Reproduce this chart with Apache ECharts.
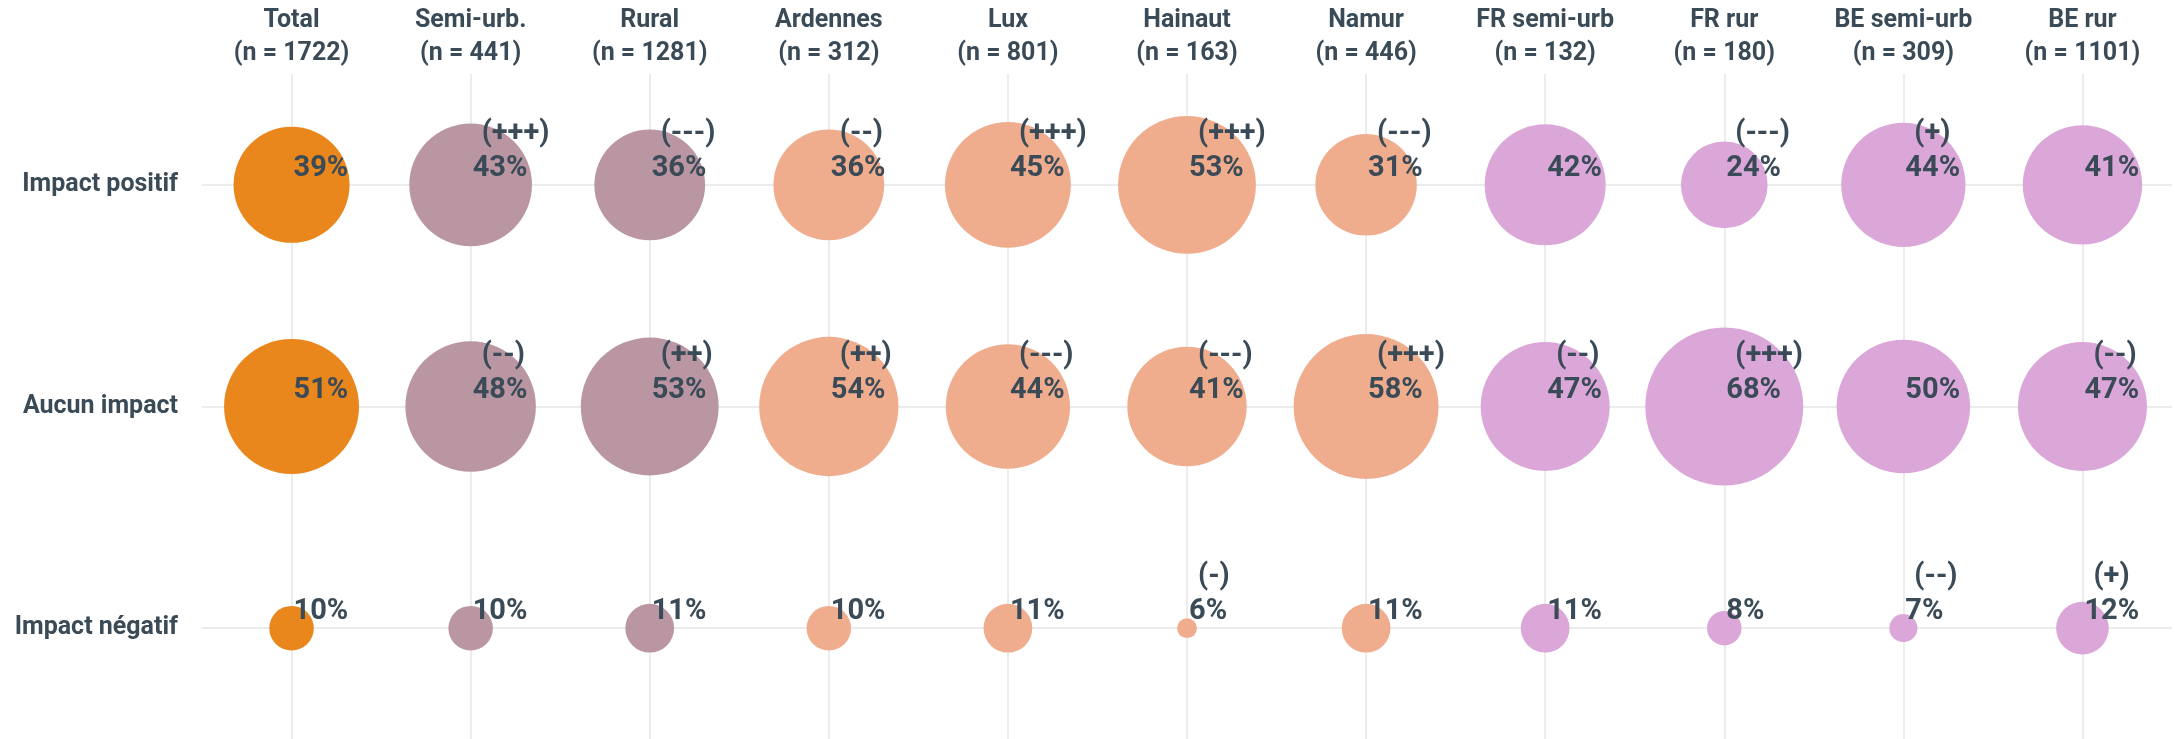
<!DOCTYPE html>
<html>
<head>
<meta charset="utf-8">
<script src="https://cdn.jsdelivr.net/npm/echarts@6/dist/echarts.min.js"></script>
<style>
html,body{margin:0;padding:0;background:#fff;}
#chart{width:2175px;height:739px;}
</style>
</head>
<body>
<div id="chart"></div>
<script>
// ---- data ----
const categories = ['Total', 'Semi-urb.', 'Rural', 'Ardennes', 'Lux', 'Hainaut', 'Namur', 'FR semi-urb', 'FR rur', 'BE semi-urb', 'BE rur'];
const sampleSizes = [1722, 441, 1281, 312, 801, 163, 446, 132, 180, 309, 1101];
const rows = ['Impact positif', 'Aucun impact', 'Impact négatif'];
const positif = [39, 43, 36, 36, 45, 53, 31, 42, 24, 44, 41];
const aucun   = [51, 48, 53, 54, 44, 41, 58, 47, 68, 50, 47];
const negatif = [10, 10, 11, 10, 11, 6, 11, 11, 8, 7, 12];
const sigPositif = ['', '(+++)', '(---)', '(--)', '(+++)', '(+++)', '(---)', '', '(---)', '(+)', ''];
const sigAucun   = ['', '(--)', '(++)', '(++)', '(---)', '(---)', '(+++)', '(--)', '(+++)', '', '(--)'];
const sigNegatif = ['', '', '', '', '', '(-)', '', '', '', '(--)', '(+)'];
const groupOf = [0, 1, 1, 2, 2, 2, 2, 3, 3, 3, 3];

// ---- styles ----
const groupColors = ['#E9871D', '#B996A2', '#F0AD8E', '#DBA7D8'];
const textColor = '#3A4B57';
const fontFamily = 'Roboto, "DejaVu Sans", sans-serif';

const valueRows = [positif, aucun, negatif];
const sigRows = [sigPositif, sigAucun, sigNegatif];

const bubbleData = [];
const sigData = [];
valueRows.forEach((arr, r) => {
  arr.forEach((v, c) => {
    bubbleData.push({
      value: [c, r, v],
      itemStyle: { color: groupColors[groupOf[c]], opacity: 1 }
    });
    if (sigRows[r][c]) sigData.push({ value: [c, r, sigRows[r][c]] });
  });
});

const chart = echarts.init(document.getElementById('chart'), null, { renderer: 'canvas' });
chart.setOption({
  animation: false,
  backgroundColor: '#ffffff',
  grid: { left: 202, right: 3, top: 74, bottom: 0, containLabel: false },
  xAxis: {
    type: 'category',
    position: 'top',
    data: categories,
    boundaryGap: true,
    axisLine: { show: false },
    axisTick: { show: false },
    splitLine: { show: true, alignWithLabel: true, lineStyle: { color: '#E6E6E6', width: 1.5 } },
    axisLabel: {
      margin: 4,
      interval: 0,
      color: textColor,
      fontFamily: fontFamily,
      fontWeight: 'bold',
      fontSize: 25,
      lineHeight: 33,
      formatter: (val, idx) => val + '\n(n = ' + sampleSizes[idx] + ')'
    }
  },
  yAxis: {
    type: 'category',
    data: rows,
    inverse: true,
    boundaryGap: true,
    axisLine: { show: false },
    axisTick: { show: false },
    splitLine: { show: true, alignWithLabel: true, lineStyle: { color: '#E6E6E6', width: 1.5 } },
    axisLabel: {
      margin: 24,
      color: textColor,
      fontFamily: fontFamily,
      fontWeight: 'bold',
      fontSize: 25
    }
  },
  series: [
    {
      type: 'scatter',
      data: bubbleData,
      symbol: 'circle',
      symbolSize: (val) => Math.sqrt(396 * Math.max(val[2] - 5, 0.3)),
      itemStyle: { opacity: 1 },
      label: {
        show: true,
        position: 'inside',
        align: 'left',
        verticalAlign: 'middle',
        offset: [2, -16],
        color: textColor,
        fontFamily: fontFamily,
        fontWeight: 'bold',
        fontSize: 29,
        formatter: (p) => p.value[2] + '%'
      },
      z: 2
    },
    {
      type: 'scatter',
      data: sigData,
      symbol: 'circle',
      symbolSize: 1,
      itemStyle: { color: 'rgba(0,0,0,0)', opacity: 1 },
      label: {
        show: true,
        position: 'inside',
        align: 'left',
        verticalAlign: 'middle',
        offset: [11, -51],
        color: textColor,
        fontFamily: fontFamily,
        fontWeight: 'bold',
        fontSize: 29,
        formatter: (p) => p.value[2]
      },
      z: 3
    }
  ]
});
</script>
</body>
</html>
